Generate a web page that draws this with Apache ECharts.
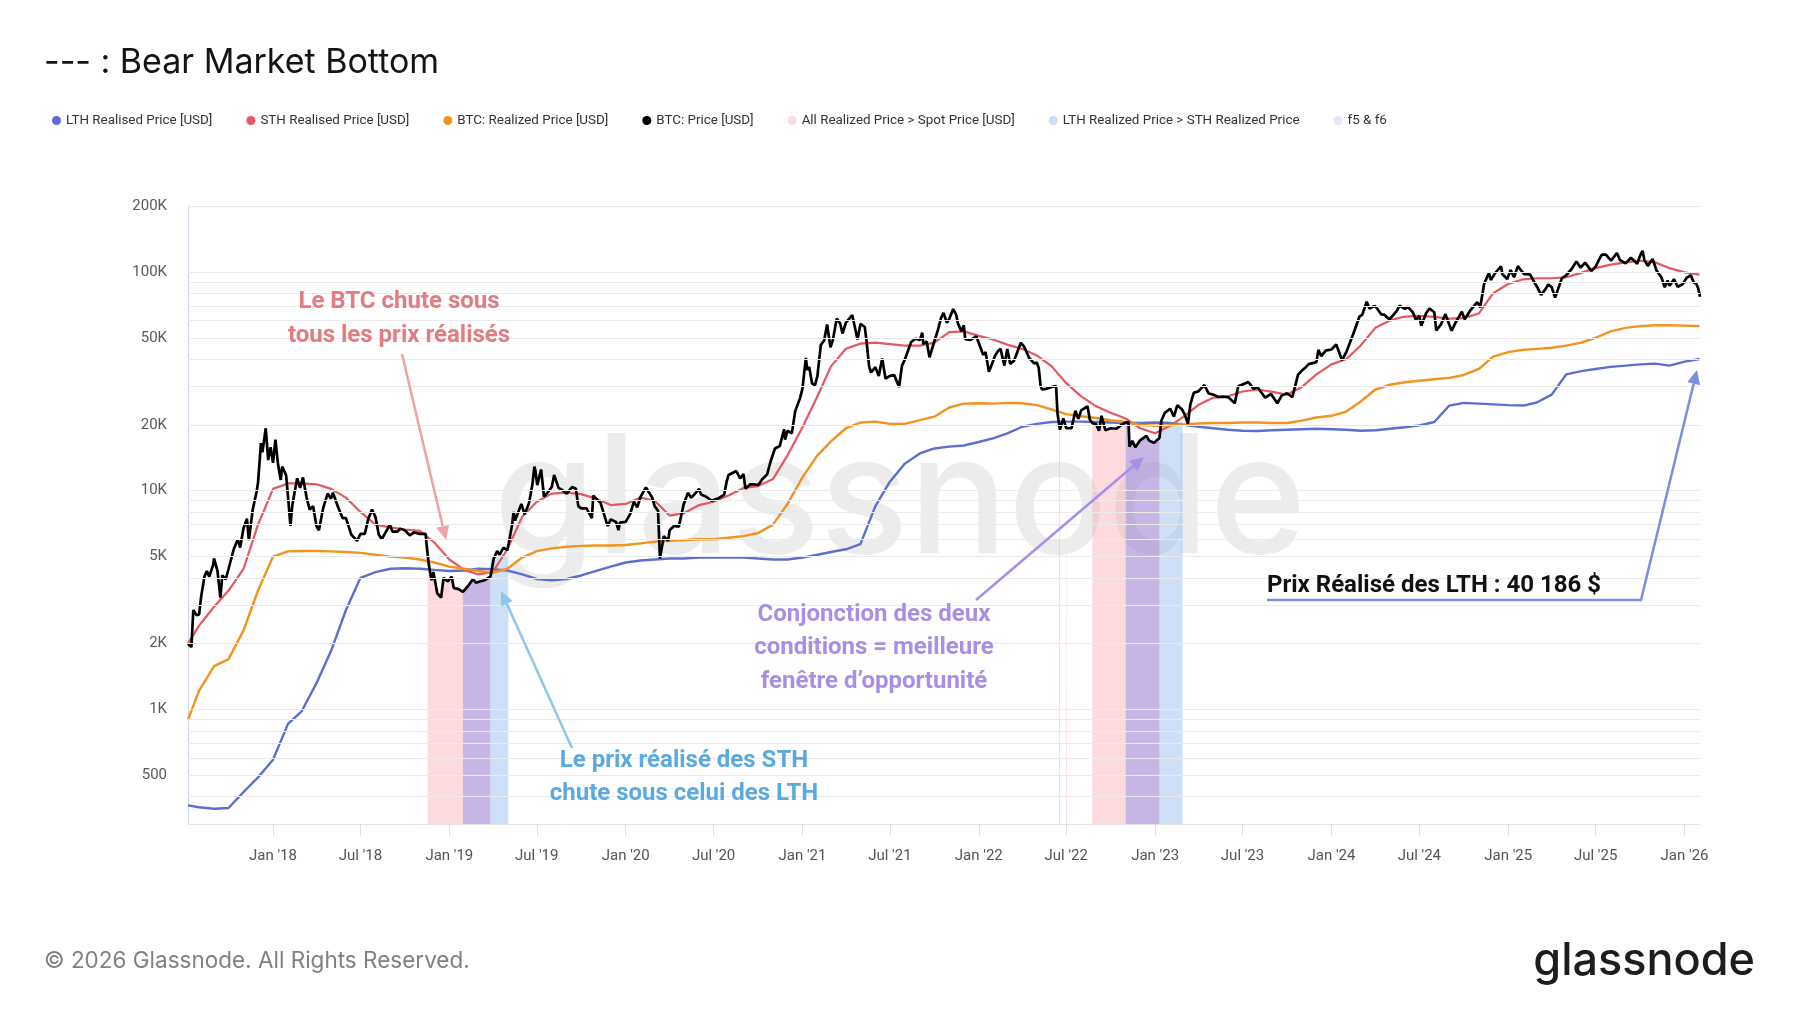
<!DOCTYPE html>
<html><head><meta charset="utf-8">
<script src="https://cdn.jsdelivr.net/npm/echarts@6.0.0/dist/echarts.min.js"></script>
<style>html,body{margin:0;padding:0;background:#fff;}#chart{width:1800px;height:1013px;}</style>
</head><body><div id="chart"></div>
<script>
// ---------- DATA ----------
const realizedDates = [
 '2017-07-09','2017-08-01','2017-09-01','2017-10-01','2017-11-01','2017-12-01',
 '2018-01-01','2018-02-01','2018-03-01','2018-04-01','2018-05-01','2018-06-01','2018-07-01','2018-08-01','2018-09-01','2018-10-01','2018-11-01','2018-12-01',
 '2019-01-01','2019-02-01','2019-03-01','2019-04-01','2019-05-01','2019-06-01','2019-07-01','2019-08-01','2019-09-01','2019-10-01','2019-11-01','2019-12-01',
 '2020-01-01','2020-02-01','2020-03-01','2020-04-01','2020-05-01','2020-06-01','2020-07-01','2020-08-01','2020-09-01','2020-10-01','2020-11-01','2020-12-01',
 '2021-01-01','2021-02-01','2021-03-01','2021-04-01','2021-05-01','2021-06-01','2021-07-01','2021-08-01','2021-09-01','2021-10-01','2021-11-01','2021-12-01',
 '2022-01-01','2022-02-01','2022-03-01','2022-04-01','2022-05-01','2022-06-01','2022-07-01','2022-08-01','2022-09-01','2022-10-01','2022-11-01','2022-12-01',
 '2023-01-01','2023-02-01','2023-03-01','2023-04-01','2023-05-01','2023-06-01','2023-07-01','2023-08-01','2023-09-01','2023-10-01','2023-11-01','2023-12-01',
 '2024-01-01','2024-02-01','2024-03-01','2024-04-01','2024-05-01','2024-06-01','2024-07-01','2024-08-01','2024-09-01','2024-10-01','2024-11-01','2024-12-01',
 '2025-01-01','2025-02-01','2025-03-01','2025-04-01','2025-05-01','2025-06-01','2025-07-01','2025-08-01','2025-09-01','2025-10-01','2025-11-01','2025-12-01',
 '2026-01-01','2026-02-01','2026-02-02'
];
const lthRealized = [
 365,358,352,355,420,490,
 590,860,980,1320,1850,2850,4000,4250,4400,4420,4400,4350,
 4300,4320,4400,4380,4320,4150,3950,3900,3950,4100,4300,4500,
 4700,4800,4850,4900,4900,4950,4950,4950,4950,4900,4850,4850,
 4950,5100,5250,5400,5700,8500,11000,13300,14800,15600,15900,16100,
 16700,17400,18300,19600,20200,20600,20700,20700,20600,20500,20400,20400,
 20500,20400,20000,19600,19300,19000,18800,18750,18900,19000,19100,19200,
 19100,19000,18800,18900,19200,19500,19900,20600,24500,25200,25000,24800,
 24600,24500,25300,27500,34000,35200,36000,36800,37300,37800,38100,37300,
 38900,40000,40186
];
const sthRealized = [
 2000,2420,2950,3500,4400,7000,
 10200,10800,10800,10700,10200,9300,8000,7000,6800,6650,6550,5800,
 4850,4350,4150,4250,5400,7600,8900,9700,9800,9650,9200,8600,
 8700,9300,9000,7700,7900,8600,8900,9500,10300,10500,11300,14500,
 19500,27000,37000,44500,47000,47500,46800,46000,46000,47500,53000,53500,
 51000,49000,46500,44500,41500,37000,31000,27000,24300,22700,21400,19300,
 18300,19800,21800,24700,26600,27000,28400,29000,28300,27500,29800,34000,
 37800,40000,46000,55500,60000,62500,63000,62300,61200,61500,64500,80000,
 88000,92500,93500,93500,94500,99000,104000,108000,110500,112500,110500,104000,
 99500,97200,97000
];
const btcRealized = [
 900,1220,1580,1700,2300,3500,
 5000,5280,5300,5300,5280,5250,5200,5100,5000,4950,4850,4700,
 4500,4400,4300,4220,4400,4950,5300,5450,5550,5600,5620,5620,
 5650,5750,5850,5900,5950,6000,6000,6100,6200,6400,7000,8700,
 11500,14500,16800,19300,20500,20700,20200,20200,21000,21800,24000,25000,
 25100,25000,25200,25100,24600,23500,22400,21900,21500,21000,20600,20000,
 19800,19900,20100,20300,20400,20400,20500,20500,20400,20400,20900,21600,
 22000,23000,25500,29000,30500,31300,31800,32300,32800,33800,36000,41000,
 43000,44000,44500,45000,46000,47500,50000,53500,55500,56500,57000,57000,
 56800,56500,56400
];
const btcPrice = [
 ['2017-07-09',2000],['2017-07-16',1930],['2017-07-20',2850],['2017-07-27',2700],['2017-08-01',2720],['2017-08-05',3250],['2017-08-12',4050],['2017-08-17',4300],['2017-08-22',4050],['2017-08-30',4580],['2017-09-01',4900],['2017-09-08',4300],['2017-09-14',3250],['2017-09-18',4100],['2017-09-25',3930],['2017-10-01',4400],['2017-10-12',5430],['2017-10-20',5990],['2017-10-25',5500],['2017-11-01',6750],['2017-11-08',7450],['2017-11-12',5950],['2017-11-20',8200],['2017-11-28',9900],['2017-12-01',10900],['2017-12-07',16500],['2017-12-10',15000],['2017-12-17',19300],['2017-12-22',13800],['2017-12-27',15800],
 ['2018-01-01',13400],['2018-01-06',17100],['2018-01-11',13400],['2018-01-17',11200],['2018-01-20',12900],['2018-01-28',11800],['2018-02-02',8900],['2018-02-06',6900],['2018-02-10',8600],['2018-02-20',11400],['2018-02-26',10300],['2018-03-04',11500],['2018-03-12',9200],['2018-03-18',8200],['2018-03-25',8500],['2018-04-01',6900],['2018-04-06',6600],['2018-04-15',8350],['2018-04-24',9700],['2018-05-01',9200],['2018-05-05',9800],['2018-05-15',8500],['2018-05-25',7500],['2018-06-01',7500],['2018-06-12',6300],['2018-06-24',5900],['2018-07-01',6350],['2018-07-10',6350],['2018-07-17',7400],['2018-07-25',8200],['2018-08-01',7600],['2018-08-08',6300],['2018-08-14',6000],['2018-08-22',6450],['2018-08-31',7000],['2018-09-05',6500],['2018-09-15',6500],['2018-09-21',6700],['2018-10-01',6600],['2018-10-11',6250],['2018-10-20',6450],['2018-11-01',6350],['2018-11-13',6350],['2018-11-15',5650],['2018-11-19',4700],['2018-11-25',3900],['2018-11-29',4250],['2018-12-07',3400],['2018-12-15',3250],['2018-12-20',4000],['2018-12-24',4050],['2018-12-29',3850],
 ['2019-01-06',4050],['2019-01-10',3600],['2019-01-20',3550],['2019-01-29',3450],['2019-02-08',3650],['2019-02-19',3950],['2019-02-25',3800],['2019-03-05',3850],['2019-03-15',3900],['2019-03-27',4050],['2019-04-03',4900],['2019-04-10',5300],['2019-04-15',5100],['2019-04-23',5500],['2019-05-01',5350],['2019-05-04',5750],['2019-05-11',7000],['2019-05-14',8000],['2019-05-17',7300],['2019-05-30',8700],['2019-06-06',7800],['2019-06-15',8800],['2019-06-22',10700],['2019-06-26',12900],['2019-06-28',12400],['2019-07-02',10600],['2019-07-10',12500],['2019-07-16',9400],['2019-07-25',9900],['2019-08-01',10400],['2019-08-06',11800],['2019-08-15',10300],['2019-08-22',10100],['2019-09-01',9700],['2019-09-12',10400],['2019-09-20',10200],['2019-09-25',8500],['2019-10-01',8300],['2019-10-12',8300],['2019-10-23',7500],['2019-10-26',9500],['2019-11-01',9200],['2019-11-10',8800],['2019-11-22',7200],['2019-11-25',6900],['2019-12-01',7400],['2019-12-12',7200],['2019-12-17',6600],['2019-12-20',7150],
 ['2020-01-01',7200],['2020-01-10',7800],['2020-01-18',8900],['2020-01-25',8400],['2020-02-01',9400],['2020-02-12',10350],['2020-02-15',10200],['2020-02-25',9300],['2020-03-01',8500],['2020-03-08',8100],['2020-03-12',4900],['2020-03-16',5000],['2020-03-20',6200],['2020-03-29',5900],['2020-04-01',6600],['2020-04-10',6900],['2020-04-20',6850],['2020-04-30',8650],['2020-05-09',9800],['2020-05-15',9300],['2020-05-20',9500],['2020-06-01',10200],['2020-06-05',9600],['2020-06-15',9400],['2020-06-27',9000],['2020-07-10',9200],['2020-07-23',9600],['2020-07-28',11000],['2020-08-01',11800],['2020-08-17',12300],['2020-08-25',11400],['2020-09-01',11900],['2020-09-05',10200],['2020-09-15',10700],['2020-09-24',10700],['2020-10-01',10600],['2020-10-10',11300],['2020-10-20',11900],['2020-10-27',13600],['2020-11-05',15600],['2020-11-15',16000],['2020-11-24',19100],['2020-11-26',17100],['2020-12-01',18800],['2020-12-10',18300],['2020-12-17',23100],['2020-12-27',26500],
 ['2021-01-01',29300],['2021-01-08',40500],['2021-01-11',35600],['2021-01-15',36800],['2021-01-21',30800],['2021-01-27',30400],['2021-02-01',33500],['2021-02-08',46300],['2021-02-15',48700],['2021-02-21',57500],['2021-02-28',45200],['2021-03-05',48900],['2021-03-13',61200],['2021-03-20',58100],['2021-03-25',52300],['2021-04-01',58700],['2021-04-14',63500],['2021-04-25',49100],['2021-05-01',57800],['2021-05-10',56000],['2021-05-13',49700],['2021-05-19',37000],['2021-05-23',34700],['2021-06-01',36700],['2021-06-08',33400],['2021-06-15',40200],['2021-06-22',32500],['2021-07-01',33500],['2021-07-10',33800],['2021-07-20',29800],['2021-07-26',37300],['2021-08-01',39800],['2021-08-14',47800],['2021-08-23',49500],['2021-09-01',48800],['2021-09-06',52700],['2021-09-08',46800],['2021-09-15',48100],['2021-09-21',40700],['2021-10-01',48200],['2021-10-08',53900],['2021-10-15',61600],['2021-10-20',65000],['2021-10-27',58500],['2021-11-01',61000],['2021-11-09',67600],['2021-11-15',64000],['2021-11-19',58000],['2021-11-26',53600],['2021-12-01',57000],['2021-12-04',49300],['2021-12-15',48900],['2021-12-27',50700],
 ['2022-01-01',47300],['2022-01-10',41800],['2022-01-15',43000],['2022-01-22',35000],['2022-01-28',37700],['2022-02-04',41600],['2022-02-10',43500],['2022-02-15',44500],['2022-02-23',37300],['2022-03-01',44400],['2022-03-07',38000],['2022-03-15',39300],['2022-03-29',47400],['2022-04-05',45500],['2022-04-15',40500],['2022-04-26',38100],['2022-05-01',38500],['2022-05-05',36500],['2022-05-09',30100],['2022-05-12',29000],['2022-05-20',29200],['2022-06-01',29800],['2022-06-10',30100],['2022-06-13',22500],['2022-06-18',19000],['2022-06-25',21400],['2022-07-01',19300],['2022-07-12',19300],['2022-07-20',23200],['2022-07-26',21300],['2022-08-01',23300],['2022-08-14',24300],['2022-08-19',21100],['2022-08-24',20400],['2022-09-01',20100],['2022-09-07',18800],['2022-09-12',22000],['2022-09-20',18900],['2022-10-01',19300],['2022-10-13',19200],['2022-10-25',20100],['2022-11-01',20500],['2022-11-07',20600],['2022-11-09',15900],['2022-11-15',16900],['2022-11-21',15800],['2022-12-01',17000],['2022-12-14',17800],['2022-12-20',16900],['2022-12-30',16550],
 ['2023-01-10',17400],['2023-01-14',20900],['2023-01-21',22700],['2023-02-01',23700],['2023-02-09',21800],['2023-02-16',24600],['2023-02-26',23500],['2023-03-03',22400],['2023-03-10',20200],['2023-03-15',24800],['2023-03-22',28000],['2023-04-01',28500],['2023-04-13',30400],['2023-04-22',27800],['2023-05-01',27500],['2023-05-12',26800],['2023-05-20',26900],['2023-06-01',26800],['2023-06-15',25100],['2023-06-22',30000],['2023-07-01',30600],['2023-07-13',31400],['2023-07-24',29200],['2023-08-01',29700],['2023-08-17',26600],['2023-08-29',27700],['2023-09-11',25100],['2023-09-20',27200],['2023-10-01',27900],['2023-10-12',26750],['2023-10-24',33900],['2023-11-01',35400],['2023-11-09',36700],['2023-11-15',37900],['2023-12-01',38700],['2023-12-05',44000],['2023-12-11',41200],['2023-12-20',43700],
 ['2024-01-01',44200],['2024-01-11',46600],['2024-01-23',39500],['2024-02-01',43100],['2024-02-15',51900],['2024-02-28',62500],['2024-03-05',63800],['2024-03-14',73100],['2024-03-20',67900],['2024-03-27',69400],['2024-04-01',69700],['2024-04-13',64000],['2024-04-19',63800],['2024-04-30',60600],['2024-05-07',63100],['2024-05-15',66200],['2024-05-21',70100],['2024-06-01',67700],['2024-06-07',69300],['2024-06-18',65100],['2024-06-24',60300],['2024-07-01',62900],['2024-07-05',56700],['2024-07-15',64700],['2024-07-22',68000],['2024-08-01',65400],['2024-08-05',54000],['2024-08-15',57600],['2024-08-24',64100],['2024-09-01',57300],['2024-09-06',53900],['2024-09-15',59200],['2024-09-27',65800],['2024-10-03',60700],['2024-10-15',66900],['2024-10-29',72700],['2024-11-04',68800],['2024-11-12',88000],['2024-11-22',98900],['2024-11-26',91900],['2024-12-05',98700],['2024-12-17',106100],['2024-12-20',97500],['2024-12-30',92800],
 ['2025-01-06',102000],['2025-01-13',94500],['2025-01-21',106200],['2025-01-27',102000],['2025-02-03',97600],['2025-02-15',97500],['2025-02-25',88800],['2025-03-01',86000],['2025-03-10',78500],['2025-03-18',82700],['2025-03-25',87500],['2025-04-01',85200],['2025-04-08',76300],['2025-04-22',93400],['2025-05-01',96500],['2025-05-12',102800],['2025-05-22',111600],['2025-05-31',104600],['2025-06-09',110200],['2025-06-22',101000],['2025-07-01',105700],['2025-07-10',116000],['2025-07-14',119800],['2025-07-22',119900],['2025-08-02',112500],['2025-08-14',122000],['2025-08-20',113500],['2025-09-01',109300],['2025-09-12',116000],['2025-09-25',109000],['2025-10-01',118600],['2025-10-06',124700],['2025-10-10',113200],['2025-10-17',106500],['2025-10-27',114500],['2025-11-04',101300],['2025-11-14',94500],['2025-11-21',85100],['2025-11-27',91300],['2025-12-01',86300],['2025-12-10',92600],['2025-12-18',85500],['2025-12-28',87800],
 ['2026-01-05',93800],['2026-01-14',96500],['2026-01-20',89500],['2026-01-25',88500],['2026-01-29',84500],['2026-02-02',77000]
];
// Condition periods (value = top of the shaded band)
const allAboveSpot = [
 [['2018-11-17',4900],['2018-11-19',4700],['2018-11-25',3900],['2018-11-29',4250],['2018-12-07',3400],['2018-12-15',3250],['2018-12-20',4000],['2018-12-24',4050],['2018-12-29',3850],['2019-01-06',4050],['2019-01-10',3600],['2019-01-20',3550],['2019-01-29',3450]],
 [['2022-06-16',20400],['2022-06-18',19000]],
 [['2022-07-01',19300],['2022-07-03',19300]],
 [['2022-07-11',19300],['2022-07-12',19300]],
 [['2022-08-24',20400],['2022-09-01',20100],['2022-09-07',18800],['2022-09-12',22000],['2022-09-20',18900],['2022-10-01',19300],['2022-10-13',19200],['2022-10-25',20100],['2022-11-01',20500]]
];
const lthAboveSth = [
 [['2019-03-27',5000],['2019-05-03',5000]],
 [['2023-01-10',20600],['2023-02-27',20600]]
];
const bothConditions = [
 [['2019-01-29',3450],['2019-02-08',3650],['2019-02-19',3950],['2019-02-25',3800],['2019-03-05',3850],['2019-03-15',3900],['2019-03-27',4050]],
 [['2022-11-01',20500],['2022-11-07',20600],['2022-11-09',15900],['2022-11-15',16900],['2022-11-21',15800],['2022-12-01',17000],['2022-12-14',17800],['2022-12-20',16900],['2022-12-30',16550],['2023-01-10',17400]]
];
const xRange = ['2017-07-09','2026-02-02'];
const xTickDates = ['2018-01-01','2018-07-01','2019-01-01','2019-07-01','2020-01-01','2020-07-01','2021-01-01','2021-07-01','2022-01-01','2022-07-01','2023-01-01','2023-07-01','2024-01-01','2024-07-01','2025-01-01','2025-07-01','2026-01-01'];
const yTickLabels = [500,1000,2000,5000,10000,20000,50000,100000,200000];
const yGridValues = [400,500,600,700,800,900,1000,2000,3000,4000,5000,6000,7000,8000,9000,10000,20000,30000,40000,50000,60000,70000,80000,90000,100000,200000];

// ---------- HELPERS ----------
const T = s => Date.parse(s + 'T00:00:00Z');
function pts(list){ return list.map(p => [T(p[0]), p[1]]); }
function joinSegments(segs){
  const out=[];
  segs.forEach((s,i)=>{ if(i>0) out.push([T(s[0][0]), null]); s.forEach(p=>out.push([T(p[0]), p[1]])); });
  return out;
}
function zip(dates, vals){ return dates.map((d,i)=>[T(d), vals[i]]); }
function fmtK(v){ return v>=1000 ? (v/1000)+'K' : String(v); }
const MONTHS=['Jan','Feb','Mar','Apr','May','Jun','Jul','Aug','Sep','Oct','Nov','Dec'];

function arrow(p, color, w){
  const n=p.length, a=p[n-2], b=p[n-1];
  const ang=Math.atan2(b[1]-a[1], b[0]-a[0]);
  const L=14, H=6.5;
  const bx=b[0]-L*Math.cos(ang), by=b[1]-L*Math.sin(ang);
  const p1=[bx+H*Math.sin(ang), by-H*Math.cos(ang)], p2=[bx-H*Math.sin(ang), by+H*Math.cos(ang)];
  return [
    {type:'polyline', z:100, silent:true, shape:{points: p.slice(0,n-1).concat([[bx,by]])}, style:{stroke:color, lineWidth:w, fill:null}},
    {type:'polygon', z:100, silent:true, shape:{points:[b,p1,p2]}, style:{fill:color}}
  ];
}
function txt(x,y,text,color,opts){
  return {type:'text', z:100, silent:true, x:x, y:y,
    style:Object.assign({text:text, fill:color, font:'bold 24px Roboto', align:'center', verticalAlign:'middle'}, (opts||{}))};
}

const names = {
  lth:'LTH Realised Price [USD]', sth:'STH Realised Price [USD]', rp:'BTC: Realized Price [USD]', price:'BTC: Price [USD]',
  pink:'All Realized Price > Spot Price [USD]', blue:'LTH Realized Price > STH Realized Price', both:'f5 & f6'
};

const chart = echarts.init(document.getElementById('chart'));
const option = {
  animation:false,
  backgroundColor:'#ffffff',
  title:{text:'--- : Bear Market Bottom', left:44, top:46, padding:0,
    textStyle:{fontFamily:'Inter', fontSize:34, fontWeight:400, color:'#141414'}},
  legend:{
    data:[names.lth,names.sth,names.rp,names.price,names.pink,names.blue,names.both],
    left:47, top:109, icon:'circle', itemWidth:9, itemHeight:9, itemGap:34, selectedMode:false,
    textStyle:{fontFamily:'Roboto', fontSize:13.4, color:'#333'}
  },
  grid:{left:188, right:100, top:206, bottom:189, containLabel:false},
  xAxis:{
    type:'value', min:T(xRange[0]), max:T(xRange[1]), scale:true,
    axisLine:{show:true, onZero:false, lineStyle:{color:'#e4e4e4', width:1}},
    axisTick:{show:true, customValues:xTickDates.map(T), length:12, lineStyle:{color:'#e0e0e0'}},
    axisLabel:{customValues:xTickDates.map(T), margin:25, fontFamily:'Roboto', fontSize:15, color:'#555',
      formatter:function(v){ const d=new Date(v); return MONTHS[d.getUTCMonth()]+" '"+String(d.getUTCFullYear()).slice(2); }},
    splitLine:{show:false}
  },
  yAxis:{
    type:'log', logBase:10, min:300, max:200000,
    axisLine:{show:true, lineStyle:{color:'#c9d4e8', width:1}},
    axisTick:{show:false}, axisLabel:{show:false}, splitLine:{show:false}
  },
  series:[
    {name:'grid', type:'line', data:[], clip:false, silent:true, z:0,
      markLine:{silent:true, symbol:['none','none'], animation:false,
        lineStyle:{color:'#ebebeb', width:1, type:'solid'},
        data: yGridValues.map(v=>({yAxis:v, label: yTickLabels.indexOf(v)>=0
          ? {show:true, position:'start', distance:21, formatter:fmtK(v), fontFamily:'Roboto', fontSize:15, color:'#5a5a5a'}
          : {show:false}}))}},
    {name:names.pink, type:'line', data:joinSegments(allAboveSpot), color:'#fcdde0', symbol:'none', connectNulls:false, silent:true,
      lineStyle:{width:0}, areaStyle:{color:'rgba(247,162,170,0.4)', origin:'start', opacity:1}},
    {name:names.blue, type:'line', data:joinSegments(lthAboveSth), color:'#cde0f7', symbol:'none', connectNulls:false, silent:true,
      lineStyle:{width:0}, areaStyle:{color:'rgba(135,180,235,0.42)', origin:'start', opacity:1}},
    {name:names.both, type:'line', data:joinSegments(bothConditions), color:'#e9e4f7', symbol:'none', connectNulls:false, silent:true,
      lineStyle:{width:0}, areaStyle:{color:'rgba(160,132,212,0.6)', origin:'start', opacity:1}},
    {name:names.lth, type:'line', data:zip(realizedDates,lthRealized), color:'#5b6fd0', symbol:'none', lineStyle:{width:2.4}},
    {name:names.sth, type:'line', data:zip(realizedDates,sthRealized), color:'#e5585f', symbol:'none', lineStyle:{width:2.2}},
    {name:names.rp, type:'line', data:zip(realizedDates,btcRealized), color:'#f2931d', symbol:'none', lineStyle:{width:2.4}},
    {name:names.price, type:'line', data:pts(btcPrice), color:'#000000', symbol:'none', lineStyle:{width:2.7}}
  ],
  graphic:{elements:[].concat(
    [{type:'text', z:0, silent:true, x:900, y:503, style:{text:'glassnode', font:'500 165px Inter', fill:'rgba(0,0,0,0.075)', align:'center', verticalAlign:'middle'}}],
    [txt(399,302,'Le BTC chute sous','#e27c7f'), txt(399,336,'tous les prix réalisés','#e27c7f')],
    arrow([[402,354],[446,540]], '#efa3a6', 2.5),
    [txt(684,761,'Le prix réalisé des STH','#5aaae0'), txt(684,794,'chute sous celui des LTH','#5aaae0')],
    arrow([[572,748],[501,591]], '#8dc6ec', 2.5),
    [txt(874,615,'Conjonction des deux','#a98ee4'), txt(874,648,'conditions = meilleure','#a98ee4'), txt(874,682,'fenêtre d’opportunité','#a98ee4')],
    arrow([[976,600],[1144,457]], '#a98de8', 2.5),
    [txt(1267,586,'Prix Réalisé des LTH : 40 186 $','#111111',{align:'left'})],
    arrow([[1267,600],[1641,600],[1697,370]], '#7b8ee0', 2.5),
    [{type:'text', z:100, silent:true, x:44, y:961, style:{text:'© 2026 Glassnode. All Rights Reserved.', font:'22.5px Inter', fill:'#808080', align:'left', verticalAlign:'middle'}},
     {type:'text', z:100, silent:true, x:1755, y:961, style:{text:'glassnode', font:'500 45px Inter', fill:'#1d1d1d', align:'right', verticalAlign:'middle'}}]
  )}
};
chart.setOption(option);
</script></body></html>
